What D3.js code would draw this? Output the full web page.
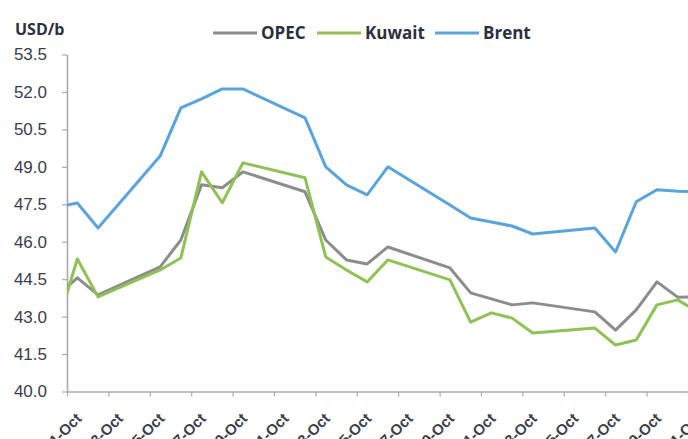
<!DOCTYPE html>
<html>
<head>
<meta charset="utf-8">
<script src="https://cdn.jsdelivr.net/npm/d3@7"></script>
<style>
  body { margin: 0; background: #fff; }
  svg { display: block; font-family: "Open Sans", sans-serif; }
</style>
</head>
<body>
<div class="container"></div>
<script>
// trading days (the first and last points sit just outside the visible axis)
const dates = ["2015-09-30", "2015-10-01", "2015-10-02", "2015-10-05", "2015-10-06", "2015-10-07",
    "2015-10-08", "2015-10-09", "2015-10-12", "2015-10-13", "2015-10-14", "2015-10-15",
    "2015-10-16", "2015-10-19", "2015-10-20", "2015-10-21", "2015-10-22", "2015-10-23",
    "2015-10-26", "2015-10-27", "2015-10-28", "2015-10-29", "2015-10-30", "2015-11-02"];
const opec = [43.82, 44.55, 43.87, 44.99, 46.07, 48.28, 48.16, 48.80, 48.00, 46.07, 45.27, 45.11,
    45.79, 44.95, 43.95, 43.71, 43.47, 43.55, 43.19, 42.46, 43.27, 44.39, 43.78, 43.80];
const kuwait = [42.58, 45.31, 43.79, 44.87, 45.35, 48.80, 47.56, 49.16, 48.56, 45.39, 44.87, 44.39,
    45.27, 44.47, 42.78, 43.15, 42.94, 42.34, 42.54, 41.86, 42.06, 43.47, 43.67, 42.20];
const brent = [47.39, 47.55, 46.55, 49.43, 51.36, 51.72, 52.12, 52.12, 50.96, 49.00, 48.28, 47.88,
    49.00, 47.47, 46.95, 46.79, 46.63, 46.31, 46.55, 45.59, 47.60, 48.08, 48.02, 47.95];
const yTicks = [40.0, 41.5, 43.0, 44.5, 46.0, 47.5, 49.0, 50.5, 52.0, 53.5];
const seriesNames = ["OPEC", "Kuwait", "Brent"];
const colors = ["#8c8c8c", "#8fc155", "#5aa4de"];

const margin = {top: 54.5, left: 67},
    width = 641.7,
    height = 337;

const svg = d3.select(".container")
    .append("svg")
    .attr("width", 688)
    .attr("height", 439);

svg.append("defs").append("clipPath")
    .attr("id", "plot-clip")
    .append("rect")
    .attr("x", 0)
    .attr("y", -10)
    .attr("width", 688 - margin.left)
    .attr("height", height + 20);

const group = svg.append("g")
    .attr("transform", `translate(${margin.left},${margin.top})`);

const parse = d3.utcParse("%Y-%m-%d");
const days = dates.map(d => d3.utcHour.offset(parse(d), 12));

const x_scale = d3.scaleUtc()
    .domain([parse("2015-10-01"), parse("2015-11-01")])
    .range([0, width]);

const y_scale = d3.scaleLinear()
    .domain([40, 53.5])
    .range([height, 0]);

const series = [opec, kuwait, brent].map((vals, i) => ({
    name: seriesNames[i],
    color: colors[i],
    values: vals.map((v, j) => ({date: days[j], value: v}))
}));

const line = d3.line()
    .x(d => x_scale(d.date))
    .y(d => y_scale(d.value));

// axes
const x_axis = d3.axisBottom(x_scale)
    .ticks(d3.utcDay.every(2))
    .tickFormat(d3.utcFormat("%-d-%b"))
    .tickSize(5)
    .tickSizeOuter(0);

group.append("g")
    .attr("class", "axis x-axis")
    .attr("transform", `translate(0,${height})`)
    .call(x_axis)
    .call(g => g.select(".domain").attr("stroke", "#aaaaaa").attr("stroke-width", 1.6))
    .call(g => g.selectAll(".tick line").attr("stroke", "#aaaaaa").attr("stroke-width", 1.2))
    .call(g => g.selectAll(".tick text")
        .attr("fill", "#3a3d4a")
        .attr("font-size", 15)
        .attr("font-weight", 600)
        .attr("text-anchor", "end")
        .attr("dy", null)
        .attr("y", null)
        .attr("transform", "translate(15,28) rotate(-45)"));

const y_axis = d3.axisLeft(y_scale)
    .tickValues(yTicks)
    .tickFormat(d3.format(".1f"))
    .tickSize(5)
    .tickPadding(15)
    .tickSizeOuter(0);

group.append("g")
    .attr("class", "axis y-axis")
    .call(y_axis)
    .call(g => g.select(".domain").attr("stroke", "#aaaaaa").attr("stroke-width", 1.6))
    .call(g => g.selectAll(".tick line").attr("stroke", "#aaaaaa").attr("stroke-width", 1.2))
    .call(g => g.selectAll(".tick text")
        .attr("fill", "#3a3d4a")
        .attr("font-size", 17));

// lines
group.append("g")
    .attr("clip-path", "url(#plot-clip)")
    .selectAll("path")
    .data(series)
    .join("path")
    .attr("fill", "none")
    .attr("stroke", d => d.color)
    .attr("stroke-width", 3)
    .attr("stroke-linejoin", "round")
    .attr("d", d => line(d.values));

// unit label
svg.append("text")
    .attr("x", 15)
    .attr("y", 35)
    .attr("fill", "#2b3040")
    .attr("font-size", 16)
    .attr("font-weight", "bold")
    .text("USD/b");

// legend
const legendX = [213, 317, 435];
const legend = svg.append("g")
    .selectAll("g")
    .data(series)
    .join("g")
    .attr("transform", (d, i) => `translate(${legendX[i]},33)`);

legend.append("line")
    .attr("x1", 0)
    .attr("x2", 44)
    .attr("stroke", d => d.color)
    .attr("stroke-width", 3);

legend.append("text")
    .attr("x", 48)
    .attr("dy", "0.36em")
    .attr("fill", "#2b3040")
    .attr("font-size", 17)
    .attr("font-weight", "bold")
    .text(d => d.name);
</script>
</body>
</html>
